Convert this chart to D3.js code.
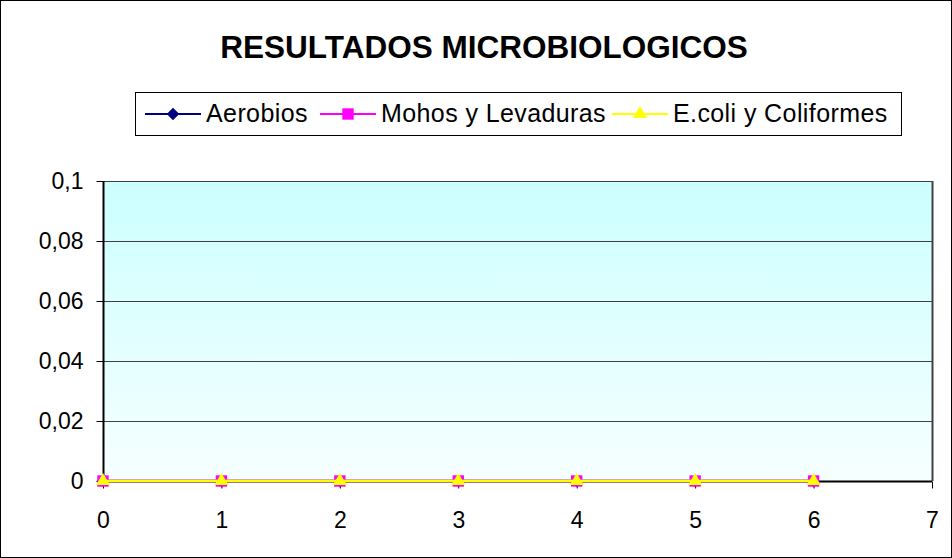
<!DOCTYPE html>
<html><head><meta charset="utf-8">
<script src="https://cdn.jsdelivr.net/npm/d3@7"></script>
<style>body{margin:0;background:#fff}svg{display:block;font-family:Arial,"Liberation Sans",sans-serif}</style>
</head><body><svg id="c" width="952" height="558"></svg>
<script>
const title = "RESULTADOS MICROBIOLOGICOS";
const xValues = [0, 1, 2, 3, 4, 5, 6];
const aerobios = [0, 0, 0, 0, 0, 0, 0];
const mohos = [0, 0, 0, 0, 0, 0, 0];
const ecoli = [0, 0, 0, 0, 0, 0, 0];
const seriesNames = ["Aerobios", "Mohos y Levaduras", "E.coli y Coliformes"];
const xTicks = [0, 1, 2, 3, 4, 5, 6, 7];
const yTicks = [0, 0.02, 0.04, 0.06, 0.08, 0.1];
const yTickLabels = ["0", "0,02", "0,04", "0,06", "0,08", "0,1"];

const svg = d3.select("#c");
svg.append("rect").attr("x",0.5).attr("y",0.5).attr("width",951).attr("height",557).attr("fill","#fff").attr("stroke","#000");

const m = {l:103, r:932, t:181, b:481};
const x = d3.scaleLinear().domain([0,7]).range([m.l, m.r]);
const y = d3.scaleLinear().domain([0,0.1]).range([m.b, m.t]);

const defs = svg.append("defs");
const g = defs.append("linearGradient").attr("id","bg").attr("x1",0).attr("y1",0).attr("x2",0).attr("y2",1);
g.append("stop").attr("offset","0%").attr("stop-color","#CCFFFF");
g.append("stop").attr("offset","100%").attr("stop-color","#F6FFFF");

svg.append("rect").attr("x",m.l).attr("y",m.t).attr("width",m.r-m.l).attr("height",m.b-m.t).attr("fill","url(#bg)");

svg.append("g").selectAll("line").data(yTicks.slice(1)).join("line")
  .attr("x1",m.l).attr("x2",m.r).attr("y1",d=>Math.round(y(d))+0.5).attr("y2",d=>Math.round(y(d))+0.5)
  .attr("stroke","#404040").attr("stroke-width",1);
svg.append("line").attr("x1",m.r+0.5).attr("x2",m.r+0.5).attr("y1",m.t).attr("y2",m.b).attr("stroke","#404040").attr("stroke-width",2);

const font = "Arial,'Liberation Sans',sans-serif";
const yAxis = d3.axisLeft(y).tickValues(yTicks).tickFormat((d,i)=>yTickLabels[i]).tickSize(7).tickPadding(13);
const ya = svg.append("g").attr("transform",`translate(${m.l+0.5},0)`).call(yAxis);
const xAxis = d3.axisBottom(x).tickValues(xTicks).tickFormat(d3.format("d")).tickSize(7).tickPadding(23);
const xa = svg.append("g").attr("transform",`translate(0,${m.b+0.5})`).call(xAxis);
[ya,xa].forEach(a=>{
  a.attr("font-size",null).attr("font-family",null);
  a.select(".domain").attr("stroke","#000").attr("stroke-width",2);
  a.selectAll(".tick line").attr("stroke","#000");
  a.selectAll("text").style("font-size","23px").attr("fill","#000").style("font-family",font);
});
ya.select(".domain").attr("d",`M0,${m.t}V${m.b}`);
xa.select(".domain").attr("d",`M${m.l},0H${m.r}`);

const series = [
  {name:seriesNames[0], vals:aerobios, color:"#000080", sym:d3.symbolDiamond2, size:100},
  {name:seriesNames[1], vals:mohos, color:"#FF00FF", sym:d3.symbolSquare, size:130},
  {name:seriesNames[2], vals:ecoli, color:"#FFFF00", sym:d3.symbolTriangle, size:85}
];
const line = d3.line().x((d,i)=>x(xValues[i])).y(d=>y(d));
series.forEach(s=>{
  svg.append("path").datum(s.vals).attr("d",line).attr("fill","none").attr("stroke",s.color).attr("stroke-width",2.5);
  svg.append("g").selectAll("path").data(s.vals).join("path")
    .attr("transform",(d,i)=>`translate(${x(xValues[i])},${y(d)})`)
    .attr("d",d3.symbol().type(s.sym).size(s.size)).attr("fill",s.color);
});

svg.append("text").attr("x",484).attr("y",58).attr("text-anchor","middle")
  .style("font-size","31.5px").attr("font-weight","bold").text(title);

svg.append("rect").attr("x",135.5).attr("y",92.5).attr("width",766).attr("height",43).attr("fill","#fff").attr("stroke","#000");
const legX = [145, 320, 612];
series.forEach((s,i)=>{
  const lg = svg.append("g").attr("transform",`translate(${legX[i]},114)`);
  lg.append("line").attr("x1",0).attr("x2",56).attr("stroke",s.color).attr("stroke-width",2);
  lg.append("path").attr("transform","translate(28,0)").attr("d",d3.symbol().type(s.sym).size(s.size)).attr("fill",s.color);
  lg.append("text").attr("x",61).attr("y",8).style("font-size","25px").style("letter-spacing","0.4px").text(s.name);
});
</script></body></html>
